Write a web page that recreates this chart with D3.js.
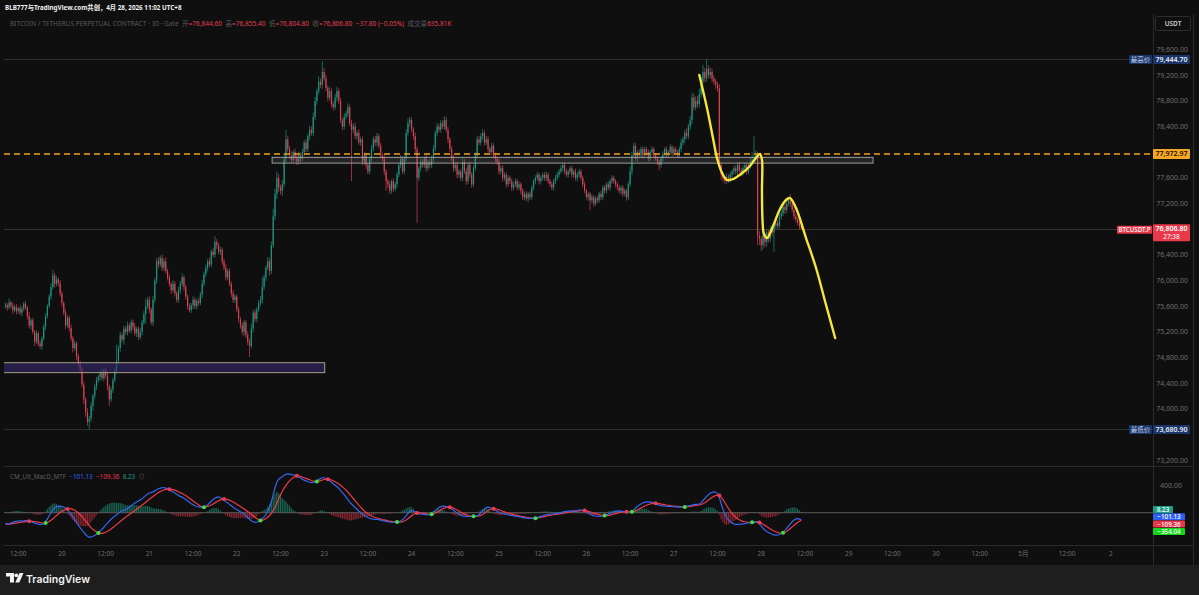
<!DOCTYPE html>
<html><head><meta charset="utf-8">
<script src="https://cdn.jsdelivr.net/npm/d3@7"></script>
<style>
html,body{margin:0;padding:0;background:#1e1e1e;overflow:hidden;}
svg{display:block;font-family:"Noto Sans","Noto Sans CJK SC",sans-serif;}
</style></head><body>
<svg id="chart" width="1199" height="595"></svg>
<script>
// ---- BTCUSDT.P 30m candles, Apr 19 08:30 -> Apr 28 11:00 (UTC+8) ----
const firstOpen = 75600;
const closes = [
75620,75580,75660,75610,75540,75590,75520,75570,75500,75560,
75640,75580,75450,75300,75380,75200,75050,75180,75020,74980,
75100,75280,75450,75600,75750,75900,76080,75950,76020,75960,
75800,75650,75500,75300,75420,75260,75100,74950,75020,74820,
74700,74620,74380,74150,73950,73800,73850,74050,74200,74350,
74450,74500,74560,74480,74600,74520,74350,74150,74300,74450,
74600,74750,74950,75150,75080,75250,75200,75300,75220,75350,
75280,75180,75250,75120,75200,75350,75480,75600,75700,75550,
75350,75700,76000,76300,76250,76350,76200,76300,76150,76050,
75950,75850,75950,75800,75700,75850,75950,76050,75900,75750,
75600,75540,75620,75700,75600,75680,75650,75780,75950,76100,
76200,76300,76250,76450,76400,76600,76550,76450,76480,76300,
76200,76050,76150,75950,75800,75700,75750,75550,75400,75300,
75200,75350,75150,75050,74980,75250,75500,75400,75550,75650,
75700,75900,76050,76200,76300,76150,76550,77000,77350,77600,
77450,77400,77500,77900,78200,78050,77950,77880,78000,77920,
77850,77950,77900,78000,78150,78050,78250,78350,78300,78550,
78800,78950,79100,79050,79250,79150,79000,78850,78950,78750,
78700,78850,78950,78800,78500,78400,78550,78600,78700,78450,
78350,78400,78250,78300,78150,78200,77850,77950,77800,77700,
77900,78050,78200,78150,78250,78100,77950,77900,77700,77550,
77500,77400,77550,77430,77500,77650,77800,77900,77700,77900,
78300,78450,78500,78350,78250,78050,77600,77750,77850,77800,
77900,77750,77850,77800,77900,78050,78300,78400,78350,78450,
78400,78500,78350,78200,78050,77900,77750,77800,77650,77700,
77600,77850,77700,77550,77800,77650,77500,77750,77950,78200,
78150,78250,78300,78150,78200,78050,78000,78100,77950,77900,
77850,77700,77750,77600,77650,77500,77600,77550,77450,77500,
77550,77450,77500,77400,77300,77350,77280,77350,77300,77450,
77550,77600,77650,77550,77600,77650,77600,77650,77550,77500,
77450,77550,77600,77650,77700,77750,77800,77700,77650,77700,
77750,77650,77700,77600,77650,77700,77600,77500,77400,77300,
77350,77250,77300,77200,77280,77250,77350,77300,77450,77400,
77500,77450,77550,77600,77550,77500,77450,77400,77450,77350,
77400,77300,77500,77700,77950,78100,77900,78000,77950,78050,
77950,78050,78000,77900,78000,78050,77950,77900,77850,77800,
77900,77980,78050,77950,78000,78080,77980,78050,78000,77950,
78050,78150,78200,78300,78250,78400,78500,78850,78700,78800,
78750,78900,79100,79250,79150,79300,79200,79250,79150,79100,
79050,79000,77800,77650,77600,77550,77620,77580,77650,77700,
77750,77700,77800,77720,77680,77750,77800,77700,77780,77850,
77880,77920,77950,76700,76650,76550,76700,76600,76750,76650,
76800,76750,76850,76900,76850,77000,77050,77150,77100,77200,
77250,77200,77100,77000,76950,76900,76844.6,76806.8
];
// distance from the body top to the high
const upperWick = [
40,30,60,25,50,35,45,20,55,40, 30,45,25,60,35,40,30,50,25,45,
35,50,40,30,45,60,90,40,55,30, 45,35,25,50,40,30,55,35,45,30,
40,50,35,45,30,60,40,55,35,45, 50,30,45,60,35,40,55,30,45,40,
45,250,40,55,30,50,40,60,35,45, 40,55,30,45,60,35,50,120,40,55,
35,60,45,50,70,40,55,45,60,35, 45,30,55,40,35,50,45,60,30,40,
35,45,30,55,40,35,50,45,60,40, 50,40,60,35,55,90,45,40,50,35,
40,55,30,45,35,50,40,30,45,35, 50,40,35,60,45,80,40,55,35,45,
60,150,45,40,70,50,60,120,80,100, 60,45,70,90,150,50,45,60,35,55,
40,60,45,50,35,55,40,60,50,70, 60,45,80,50,170,60,55,40,65,50,
45,60,70,40,50,35,55,45,60,40, 50,45,60,35,55,40,45,50,40,35,
45,60,40,55,50,35,45,40,50,35, 40,55,30,45,40,50,35,60,45,40,
60,80,50,45,40,55,40,35,50,45, 40,55,35,45,50,60,40,55,45,50,
45,60,50,40,35,45,55,40,50,35, 40,55,45,50,35,60,40,45,50,55,
50,45,60,40,55,45,35,50,40,45, 35,45,40,50,35,40,45,35,40,30,
40,35,45,30,40,35,45,30,40,35, 35,40,45,30,40,35,40,45,30,35,
40,35,45,40,35,50,40,35,45,30, 35,40,30,45,35,40,30,35,40,30,
35,30,40,35,30,40,35,45,30,40, 35,45,30,40,35,30,40,35,30,40,
35,30,45,80,60,50,40,35,45,40, 35,40,30,45,35,40,30,35,40,35,
40,35,30,40,35,45,30,35,40,30, 40,60,45,50,70,45,60,80,60,70,
80,90,70,110,60,144.7,60,70,50,45, 40,50,60,40,45,35,50,40,45,35,
40,45,35,50,40,45,35,40,45,60, 120,330,80,60,70,50,60,45,55,40,
50,45,60,55,45,50,60,45,55,70, 60,100,45,40,35,30,30,10.8
];
// distance from the body bottom to the low
const lowerWick = [
35,50,25,45,60,30,50,40,35,55, 40,30,55,45,60,35,70,40,50,45,
60,35,50,40,30,45,35,60,40,50, 45,60,40,55,35,50,45,70,40,60,
50,65,45,80,70,60,119.1,45,80,50, 55,40,60,35,50,45,60,100,40,50,
35,55,40,60,45,80,40,55,35,45, 50,40,60,45,35,55,40,150,45,60,
40,55,45,50,60,35,45,55,40,50, 45,60,35,50,40,45,55,40,60,45,
50,35,45,60,40,50,45,35,55,40, 45,55,40,50,35,45,60,40,50,55,
40,50,45,35,60,45,50,40,55,45, 50,60,45,55,170,40,60,45,50,35,
50,60,45,55,40,70,50,40,60,80, 70,60,80,50,60,45,55,50,40,60,
50,45,60,40,55,50,45,60,40,50, 55,60,45,50,65,40,50,60,45,55,
50,40,60,55,45,60,50,40,55,45, 800,55,45,60,40,50,55,45,60,40,
45,50,40,55,60,45,50,40,55,150, 60,50,45,55,40,60,45,50,40,45,
50,45,60,40,55,70,700,45,50,40, 45,55,40,50,45,60,40,55,45,50,
40,55,45,60,50,40,55,45,60,50, 45,55,40,60,45,50,55,40,45,50,
40,45,55,50,40,60,45,50,40,55, 45,50,40,55,45,50,40,45,55,40,
50,45,40,55,45,50,40,60,45,40, 45,50,40,45,55,40,45,50,40,45,
40,45,50,40,45,35,50,45,40,45, 40,50,45,40,55,45,40,50,45,40,
60,150,45,50,40,45,40,50,45,40, 45,40,50,45,40,50,45,40,60,45,
40,55,45,40,60,45,40,50,45,40, 45,40,50,45,40,50,45,40,50,80,
40,45,50,40,45,40,50,45,40,45, 40,50,45,60,45,50,55,60,50,45,
55,60,50,45,60,50,45,55,60,50, 70,60,45,80,60,50,45,60,50,45,
50,45,60,40,55,45,60,50,45,40, 50,45,40,150,100,90,60,80,70,60,
50,60,300,45,55,40,50,45,60,50, 45,55,40,50,45,40,50,2
];
// CM_Ult_MacD_MTF: MACD line and signal line
const macdLine = [
-150,-165,-160,-150,-140,-130,-125,-120,-118,-120,
-118,-115,-118,-125,-130,-140,-150,-158,-165,-172,
-170,-160,-130,-90,-45,0,45,70,85,92,
95,90,80,62,40,15,-20,-60,-100,-140,
-180,-215,-250,-285,-315,-340,-355,-350,-340,-330,
-310,-290,-265,-240,-210,-180,-150,-120,-95,-70,
-50,-30,-10,10,25,35,45,60,80,100,
120,140,155,170,185,200,225,250,270,285,
290,300,315,330,345,355,360,362,355,345,
330,315,300,285,265,250,235,225,210,190,
170,150,130,115,100,90,85,80,75,80,
95,115,140,165,190,210,225,225,215,200,
180,160,140,120,100,80,60,45,30,15,
0,-20,-45,-70,-95,-115,-130,-140,-138,-125,
-105,-85,-60,-30,25,80,160,260,360,440,
480,505,520,540,555,560,558,550,545,540,
530,515,500,485,470,460,450,440,435,438,
445,460,480,495,505,505,495,480,460,440,
415,395,375,350,320,290,260,225,190,155,
125,100,75,50,25,5,-20,-40,-55,-70,
-80,-88,-92,-95,-95,-100,-108,-115,-120,-125,
-130,-135,-138,-138,-136,-135,-133,-120,-100,-75,
-45,-10,20,30,25,10,-5,-15,-20,-22,
-25,-28,-30,-25,-15,5,30,55,75,88,
95,95,90,82,70,55,35,15,-5,-20,
-35,-45,-50,-55,-55,-55,-55,-52,-50,-45,
-30,-5,25,55,75,80,75,65,50,35,
20,5,-5,-12,-18,-25,-30,-35,-40,-45,
-50,-55,-60,-65,-70,-75,-78,-80,-82,-82,
-80,-75,-68,-60,-52,-45,-38,-30,-25,-22,
-20,-18,-15,-10,-5,0,8,15,20,22,
24,25,26,28,32,36,38,35,25,10,
-5,-20,-32,-42,-48,-52,-52,-50,-45,-38,
-30,-20,-10,0,10,18,22,25,22,18,
14,10,8,10,20,40,65,90,110,125,
140,150,155,155,152,148,140,130,120,110,
102,98,95,93,92,90,88,86,84,82,
80,80,82,86,92,98,104,110,116,120,
122,125,145,175,205,235,260,280,295,300,
295,280,220,130,50,-20,-70,-105,-130,-150,
-162,-168,-170,-168,-165,-162,-158,-152,-148,-143,
-138,-135,-132,-135,-160,-195,-225,-250,-270,-285,
-300,-312,-320,-325,-322,-315,-300,-280,-255,-225,
-190,-160,-130,-105,-88,-85,-92,-101.13
];
const signalLine = [
-165,-165,-164,-162,-159,-155,-150,-145,-140,-136,
-132,-128,-125,-123,-123,-124,-127,-131,-136,-142,
-148,-152,-150,-142,-128,-110,-88,-64,-40,-18,
2,20,35,47,55,58,56,48,35,18,
-4,-30,-58,-88,-120,-152,-185,-215,-240,-262,
-280,-292,-298,-298,-292,-282,-268,-252,-234,-214,
-194,-172,-150,-128,-106,-85,-64,-45,-26,-8,
10,30,50,70,90,110,130,150,172,195,
215,235,255,272,290,305,318,328,336,340,
340,337,332,325,315,303,290,277,264,250,
228,210,190,170,150,132,115,98,82,80,
88,92,100,112,126,142,158,173,185,193,
197,196,190,181,170,156,140,123,106,88,
72,55,36,16,-5,-25,-45,-65,-85,-105,
-112,-110,-100,-85,-65,-40,-10,30,80,140,
200,260,310,355,395,430,460,485,505,520,
533,530,525,515,505,495,485,475,465,458,
447,450,456,464,472,480,484,484,480,472,
462,448,433,416,397,376,352,326,298,268,
237,205,173,141,110,81,53,27,4,-16,
-33,-47,-59,-69,-77,-84,-91,-98,-104,-110,
-116,-121,-126,-130,-133,-135,-136,-135,-130,-120,
-106,-88,-66,-44,-26,-12,-4,-2,-4,-7,
-11,-15,-19,-22,-22,-18,-8,6,22,40,
56,68,76,80,79,74,66,54,40,24,
8,-7,-20,-31,-40,-46,-50,-52,-52,-51,
-47,-39,-26,-8,12,31,46,55,58,56,
50,41,31,21,12,3,-5,-13,-20,-27,
-33,-39,-45,-51,-56,-61,-66,-70,-74,-77,
-79,-79,-77,-73,-68,-62,-56,-50,-44,-38,
-33,-29,-25,-21,-17,-13,-9,-4,1,6,
10,14,17,20,23,26,29,31,30,26,
20,12,3,-6,-14,-22,-29,-35,-39,-41,
-41,-38,-34,-28,-21,-13,-6,1,6,10,
12,12,11,11,12,17,26,38,52,67,
82,96,108,118,126,132,136,137,135,131,
126,121,116,111,107,103,99,96,93,90,
87,85,84,84,85,88,91,95,100,105,
108,111,118,130,145,163,182,202,221,236,
248,254,247,224,189,147,104,62,24,-11,
-41,-66,-87,-103,-115,-125,-131,-135,-138,-139,
-139,-138,-137,-137,-141,-152,-167,-183,-200,-217,
-234,-249,-264,-276,-285,-291,-293,-290,-283,-272,
-250,-228,-205,-182,-160,-140,-123,-109.36
];
const mtfValue = -354.04;

// axis ticks
const priceTicks = [79600,79200,78800,78400,77600,77200,76400,76000,75600,75200,74800,74400,74000,73200];
const macdTicks = [400];
const timeLabels = ["12:00","20","12:00","21","12:00","22","12:00","23","12:00","24","12:00","25","12:00","26","12:00","27","12:00","28","12:00","29","12:00","30","12:00","5月","12:00","2"];
const firstLabelIndex = 7, candlesPerLabel = 24;

// drawn annotations: zones (candle index / price) and the projected path
const zoneFrom = [146.4, -6];
const zoneTo = [476.4, 175.3];
const zoneHigh = [77920, 74720];
const zoneLow = [77830, 74565];
const keyLevel = 77972.97;
const pathIndex = [381,385.2,388.5,390.7,393.5,396.2,399.5,403.9,408.8,412.1,414.3,415.4,415.4,415.7,416.5,418.2,421.5,425.3,428.6,430.8,434.1,439.6,445.1,450.6,455.6];
const pathPrice = [79203,78689,78221,77910,77676,77567,77582,77660,77785,77910,77972,77878,77411,76944,76726,76663,76850,77115,77255,77286,77131,76663,76196,75619,75105];

// ---- layout ----
const W = 1199, H = 595;
const plotL = 4, plotR = 1153, scaleR = 1193;
const mainT = 33, mainB = 466, macdB = 545, axisB = 565;
const upColor = "#1f9c87", downColor = "#e24557";

const xScale = d3.scaleLinear().domain([0, closes.length - 1]).range([5.5, 801.3]);
const yMain = d3.scaleLinear().domain([73200, 79600]).range([460.3, 49.5]);
const yMacd = d3.scaleLinear().domain([0, 400]).range([512.7, 485]);

const svg = d3.select("#chart");
svg.append("rect").attr("width", W).attr("height", H).attr("fill", "#1e1e1e");
svg.append("rect").attr("x", 0).attr("y", 0).attr("width", W).attr("height", axisB).attr("fill", "#0f0f0f");

const defs = svg.append("defs");
defs.append("clipPath").attr("id", "clipMain").append("rect")
  .attr("x", plotL).attr("y", mainT).attr("width", plotR - plotL).attr("height", mainB - mainT);
defs.append("clipPath").attr("id", "clipMacd").append("rect")
  .attr("x", plotL).attr("y", mainB).attr("width", plotR - plotL).attr("height", macdB - mainB);

// frame lines
const frame = svg.append("g").attr("stroke", "#2a2a2a").attr("stroke-width", 1);
frame.append("line").attr("x1", plotL).attr("x2", scaleR).attr("y1", mainB + 0.5).attr("y2", mainB + 0.5);
frame.append("line").attr("x1", plotL).attr("x2", scaleR).attr("y1", macdB + 0.5).attr("y2", macdB + 0.5);
frame.append("line").attr("x1", plotR + 0.5).attr("x2", plotR + 0.5).attr("y1", 14).attr("y2", axisB);
frame.append("line").attr("x1", scaleR + 0.5).attr("x2", scaleR + 0.5).attr("y1", 14).attr("y2", axisB);

// candles
const candles = closes.map((c, i) => {
  const o = i === 0 ? firstOpen : closes[i - 1];
  return { i, o, c, h: Math.max(o, c) + upperWick[i], l: Math.min(o, c) - lowerWick[i] };
});
const hi = d3.max(candles, d => d.h), lo = d3.min(candles, d => d.l);
const last = candles[candles.length - 1];

const main = svg.append("g").attr("clip-path", "url(#clipMain)");
// high / low / last price guide lines
[[hi, "#2e2e2e"], [lo, "#2e2e2e"], [last.c, "#3a2f31"]].forEach(([v, col]) => {
  main.append("line").attr("x1", plotL).attr("x2", plotR)
    .attr("y1", Math.round(yMain(v)) + 0.5).attr("y2", Math.round(yMain(v)) + 0.5)
    .attr("stroke", col).attr("stroke-width", 1);
});

main.selectAll("line.wick").data(candles).join("line").attr("class", "wick")
  .attr("x1", d => xScale(d.i)).attr("x2", d => xScale(d.i))
  .attr("y1", d => yMain(d.h)).attr("y2", d => yMain(d.l))
  .attr("stroke", d => d.c >= d.o ? upColor : downColor).attr("stroke-width", 0.8).attr("opacity", 0.8);
main.selectAll("rect.body").data(candles).join("rect").attr("class", "body")
  .attr("x", d => xScale(d.i) - 0.6).attr("width", 1.2)
  .attr("y", d => yMain(Math.max(d.o, d.c)))
  .attr("height", d => Math.max(0.8, Math.abs(yMain(d.o) - yMain(d.c))))
  .attr("fill", d => d.c >= d.o ? upColor : downColor).attr("opacity", 0.92);

// zones
const zones = zoneFrom.map((f, k) => ({ f, t: zoneTo[k], hi: zoneHigh[k], lo: zoneLow[k], k }));
main.selectAll("rect.zone").data(zones).join("rect").attr("class", "zone")
  .attr("x", d => xScale(d.f)).attr("width", d => xScale(d.t) - xScale(d.f))
  .attr("y", d => yMain(d.hi)).attr("height", d => yMain(d.lo) - yMain(d.hi))
  .attr("fill", d => d.k === 0 ? "rgba(120,120,120,0.22)" : "rgba(52,40,112,0.6)")
  .attr("stroke", d => d.k === 0 ? "#a9a9a9" : "#b9ae8c").attr("stroke-width", 0.9);

// key level
main.append("line").attr("x1", plotL).attr("x2", plotR)
  .attr("y1", yMain(keyLevel)).attr("y2", yMain(keyLevel))
  .attr("stroke", "#f2a31e").attr("stroke-width", 1.4).attr("stroke-dasharray", "6,4");

// projected path
const pathPts = pathIndex.map((ix, k) => [xScale(ix), yMain(pathPrice[k])]);
main.append("path").attr("d", d3.line().curve(d3.curveCatmullRom.alpha(0.5))(pathPts))
  .attr("fill", "none").attr("stroke", "#f7e53b").attr("stroke-width", 2.4)
  .attr("stroke-linecap", "round").attr("stroke-linejoin", "round");

// ---- MACD pane ----
const macd = svg.append("g").attr("clip-path", "url(#clipMacd)");
const hist = macdLine.map((m, i) => ({ i, v: m - signalLine[i] }));
macd.selectAll("rect.hist").data(hist).join("rect").attr("class", "hist")
  .attr("x", d => xScale(d.i) - 0.6).attr("width", 1.2)
  .attr("y", d => Math.min(yMacd(d.v), yMacd(0)))
  .attr("height", d => Math.abs(yMacd(d.v) - yMacd(0)))
  .attr("fill", d => d.v >= 0 ? "#1f8f72" : "#c2303f").attr("opacity", 0.7);
macd.append("line").attr("x1", plotL).attr("x2", plotR)
  .attr("y1", yMacd(0)).attr("y2", yMacd(0)).attr("stroke", "#5a5a5a").attr("stroke-width", 1);
const lineGen = d3.line().x((d, i) => xScale(i)).y(d => yMacd(d));
macd.append("path").attr("d", lineGen(signalLine)).attr("fill", "none").attr("stroke", "#f03a4a").attr("stroke-width", 1.2);
macd.append("path").attr("d", lineGen(macdLine)).attr("fill", "none").attr("stroke", "#3566f0").attr("stroke-width", 1.2);
const crosses = [];
for (let i = 1; i < macdLine.length; i++) {
  const p = hist[i - 1].v, c = hist[i].v;
  if (p < 0 && c >= 0) crosses.push({ i, up: true });
  else if (p >= 0 && c < 0) crosses.push({ i, up: false });
}
macd.selectAll("circle.cross").data(crosses).join("circle").attr("class", "cross")
  .attr("cx", d => xScale(d.i)).attr("cy", d => yMacd(signalLine[d.i])).attr("r", 2)
  .attr("fill", d => d.up ? "#3ee03a" : "#f03a4a");

// ---- price scale ----
const tickG = svg.append("g").attr("font-size", 7).attr("fill", "#6e6e6e").attr("text-anchor", "end");
tickG.selectAll("text").data(priceTicks).join("text")
  .attr("x", 1188).attr("y", d => yMain(d) + 2.5).text(d => d3.format(",.2f")(d));
tickG.append("g").selectAll("text").data(macdTicks).join("text")
  .attr("x", 1182).attr("y", d => yMacd(d) + 2.5).text(d => d3.format(",.2f")(d));

function tag(x, yc, w, h, fill, txt, col, opt = {}) {
  svg.append("rect").attr("x", x).attr("y", yc - h / 2).attr("width", w).attr("height", h)
    .attr("rx", 1).attr("fill", fill);
  svg.append("text").attr("x", x + w / 2).attr("y", yc + 2.4).attr("text-anchor", "middle")
    .attr("font-size", opt.size || 7).attr("font-weight", opt.weight || 600).attr("fill", col).text(txt);
}
const fmt = d3.format(",.2f");
const minus = s => s.replace("-", "−");
// high / low tags
tag(1129, yMain(hi), 23, 9, "#1b3566", "最高价", "#c9d6f2", { size: 6.5, weight: 400 });
tag(1153, yMain(hi), 37, 9, "#1b3566", fmt(hi), "#e3eaf8");
tag(1129, yMain(lo), 23, 9, "#1b3566", "最低价", "#c9d6f2", { size: 6.5, weight: 400 });
tag(1153, yMain(lo), 37, 9, "#1b3566", fmt(lo), "#e3eaf8");
// key level tag
tag(1153, yMain(keyLevel), 37, 10, "#f5a623", fmt(keyLevel), "#1a1203");
// last price tag
tag(1117, yMain(last.c) + 1, 35, 8, "#e8384a", "BTCUSDT.P", "#ffffff", { size: 6.2, weight: 500 });
svg.append("rect").attr("x", 1153).attr("y", yMain(last.c) - 4.5).attr("width", 37).attr("height", 17).attr("rx", 1).attr("fill", "#e8384a");
svg.append("text").attr("x", 1171.5).attr("y", yMain(last.c) + 2.3).attr("text-anchor", "middle").attr("font-size", 7).attr("font-weight", 600).attr("fill", "#fff").text(fmt(last.c));
svg.append("text").attr("x", 1171.5).attr("y", yMain(last.c) + 10).attr("text-anchor", "middle").attr("font-size", 6.5).attr("fill", "#fff").text("27:38");

// MACD value tags
const lastI = macdLine.length - 1;
const macdTags = [
  [hist[lastI].v, "#1f9e86", "#ffffff"],
  [macdLine[lastI], "#2f5ff0", "#ffffff"],
  [signalLine[lastI], "#ec3547", "#ffffff"],
  [mtfValue, "#12d81a", "#ffffff"]
];
macdTags.forEach(([v, fill, col], k) => {
  const txt = minus(fmt(v));
  const w = txt.length * 4 + 4;
  tag(1153, 509.5 + k * 7.3, w, 7, fill, txt, col, { size: 6.3, weight: 500 });
});

// USDT unit box
svg.append("rect").attr("x", 1155.5).attr("y", 16.5).attr("width", 35).attr("height", 14).attr("rx", 2)
  .attr("fill", "#0f0f0f").attr("stroke", "#2e2e2e");
svg.append("text").attr("x", 1173).attr("y", 26).attr("text-anchor", "middle").attr("font-size", 6.5).attr("font-weight", 600).attr("fill", "#d0d0d0").text("USDT");

// ---- time axis ----
svg.append("g").attr("font-size", 6.5).attr("fill", "#6e6e6e").attr("text-anchor", "middle")
  .selectAll("text").data(timeLabels).join("text")
  .attr("x", (d, k) => xScale(firstLabelIndex + k * candlesPerLabel)).attr("y", 556).text(d => d);

// ---- legends: each piece is its own text, laid out left to right and fitted to a width ----
function legendRow(parts, x0, y, width, baseSize, weight) {
  const g = svg.append("g");
  const nodes = parts.map(([t, col]) => g.append("text").attr("y", y).attr("font-size", baseSize)
    .attr("font-weight", weight || 400).attr("fill", col).attr("xml:space", "preserve").text(t));
  const total = d3.sum(nodes, n => n.node().getComputedTextLength());
  const size = baseSize * width / total;
  let x = x0;
  nodes.forEach(n => { n.attr("font-size", size).attr("x", x); x += n.node().getComputedTextLength(); });
}
legendRow([["BLB777与TradingView.com共创，4月 28, 2026 11:02 UTC+8", "#f0f0f0"]], 5, 9.5, 177, 7, 700);

const o = last.o, c = last.c, chg = c - o;
const gray = "#595959", red = "#e0404f";
legendRow([
  ["BITCOIN / TETHERUS PERPETUAL CONTRACT · 30 · Gate  ", gray],
  ["开", gray], ["=" + fmt(o) + "  ", red],
  ["高", gray], ["=" + fmt(last.h) + "  ", red],
  ["低", gray], ["=" + fmt(last.l) + "  ", red],
  ["收", gray], ["=" + fmt(c) + "  ", red],
  [minus(fmt(chg)) + " (" + minus(d3.format(".2f")(chg / o * 100)) + "%)  ", red],
  ["成交量", gray], ["635.81K", red]
], 10, 25.5, 442, 7);

legendRow([["CM_Ult_MacD_MTF  ", "#5e5e5e"], [minus(fmt(macdLine[lastI])) + "  ", "#3566f0"],
  [minus(fmt(signalLine[lastI])) + "  ", "#ec3547"], [fmt(hist[lastI].v) + "  ", "#1f9e86"], ["⊘", "#4a4a4a"]],
  10, 478.5, 135, 6.5);

// ---- footer brand ----
const logo = svg.append("g").attr("fill", "#f2f2f2");
logo.append("path").attr("d", "M6,573 h8 v9.5 h-4 v-6 h-4 z");
logo.append("circle").attr("cx", 16.3).attr("cy", 575.3).attr("r", 1.9);
logo.append("path").attr("d", "M19.5,573 h4 l-4.2,9.5 h-4 z");
svg.append("text").attr("x", 26).attr("y", 582.5).attr("font-family", "Inter, 'Noto Sans', sans-serif")
  .attr("font-size", 10.5).attr("font-weight", 600).attr("fill", "#f2f2f2").text("TradingView");
</script>
</body></html>
